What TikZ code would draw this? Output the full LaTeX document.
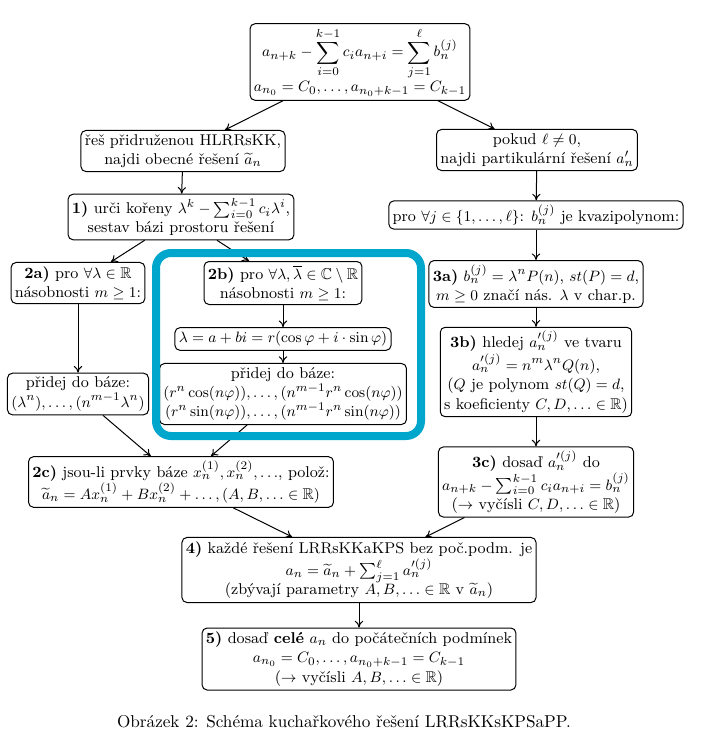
\documentclass[tikz,border=0pt]{standalone}
\usepackage{amsmath,amssymb,amsfonts}
\usepackage{xcolor}
\usetikzlibrary{arrows.meta, positioning}
\definecolor{markblue}{RGB}{0,166,204}
\tikzset{
  box/.style  = {rectangle, rounded corners=3pt, draw=black, semithick,
                 align=center, inner sep=2.3pt, font=\fontsize{9.4}{11.6}\selectfont},
  arr/.style  = {-{To[length=4pt,width=5pt]}, semithick, draw=black},
  highlight/.style = {draw=markblue, line width=4.8pt, rounded corners=9pt}
}
\begin{document}
\begin{tikzpicture}[x=0.6pt, y=-0.6pt]
  \useasboundingbox (0,0) rectangle (700,747);
  % zadani
  \node[box] (lrr) at (360,62)
    {$\displaystyle a_{n+k}-\sum_{i=0}^{k-1}c_ia_{n+i}=\sum_{j=1}^{\ell}b_n^{(j)}$\\
     $a_{n_0}=C_0,\ldots,a_{n_0+k-1}=C_{k-1}$};
  % homogenni cast
  \node[box] (hom)  at (183,151) {řeš přidruženou HLRRsKK,\\ najdi obecné řešení $\widetilde{a}_n$};
  \node[box] (roots) at (181,217) {\textbf{1)} urči kořeny $\lambda^k-\sum_{i=0}^{k-1}c_i\lambda^i$,\\ sestav bázi prostoru řešení};
  \node[box] (real) at (78,283) {\textbf{2a)} pro $\forall\lambda\in\mathbb{R}$\\ násobnosti $m\geq 1$:};
  \node[box] (realb) at (78,394) {přidej do báze:\\ $(\lambda^n),\ldots,(n^{m-1}\lambda^n)$};
  \node[box] (cplx) at (283,283) {\textbf{2b)} pro $\forall\lambda,\overline{\lambda}\in\mathbb{C}\setminus\mathbb{R}$\\ násobnosti $m\geq 1$:};
  \node[box] (polar) at (283,339) {$\lambda=a+bi=r(\cos\varphi+i\cdot\sin\varphi)$};
  \node[box] (cplxb) at (283,394) {přidej do báze:\\
     $(r^n\cos(n\varphi)),\ldots,(n^{m-1}r^n\cos(n\varphi))$\\
     $(r^n\sin(n\varphi)),\ldots,(n^{m-1}r^n\sin(n\varphi))$};
  \node[box] (gen) at (181,482) {\textbf{2c)} jsou-li prvky báze $x_n^{(1)},x_n^{(2)},\ldots$, polož:\\
     $\widetilde{a}_n=Ax_n^{(1)}+Bx_n^{(2)}+\ldots,(A,B,\ldots\in\mathbb{R})$};
  % partikularni cast
  \node[box] (part) at (537,150) {pokud $\ell\neq 0$,\\ najdi partikulární řešení $a_n'$};
  \node[box] (quasi) at (536,215) {pro $\forall j\in\{1,\ldots,\ell\}$: $b_n^{(j)}$ je kvazipolynom:};
  \node[box] (form) at (536,284) {\textbf{3a)} $b_n^{(j)}=\lambda^nP(n)$, $st(P)=d$,\\ $m\geq 0$ značí nás. $\lambda$ v char.p.};
  \node[box] (guess) at (536,372) {\textbf{3b)} hledej $a_n^{\prime(j)}$ ve tvaru\\
     $a_n^{\prime(j)}=n^m\lambda^nQ(n)$,\\ ($Q$ je polynom $st(Q)=d$,\\ s koeficienty $C,D,\ldots\in\mathbb{R}$)};
  \node[box] (subst) at (536,482) {\textbf{3c)} dosaď $a_n^{\prime(j)}$ do\\
     $a_{n+k}-\sum_{i=0}^{k-1}c_ia_{n+i}=b_n^{(j)}$\\ ($\rightarrow$ vyčísli $C,D,\ldots\in\mathbb{R}$)};
  % spojeni
  \node[box] (all) at (359,570) {\textbf{4)} každé řešení LRRsKKaKPS bez poč.podm. je\\
     $a_n=\widetilde{a}_n+\sum_{j=1}^{\ell}a_n^{\prime(j)}$\\ (zbývají parametry $A,B,\ldots\in\mathbb{R}$ v $\widetilde{a}_n$)};
  \node[box] (init) at (359,659) {\textbf{5)} dosaď \textbf{celé} $a_n$ do počátečních podmínek\\
     $a_{n_0}=C_0,\ldots,a_{n_0+k-1}=C_{k-1}$\\ ($\rightarrow$ vyčísli $A,B,\ldots\in\mathbb{R}$)};
  \node[font=\fontsize{10.3}{12}\selectfont] (cap) at (344,722) {Obrázek 2: Schéma kuchařkového řešení LRRsKKsKPSaPP.};
  % sipky
  \draw[arr] (lrr)--(hom); \draw[arr] (lrr)--(part);
  \draw[arr] (hom)--(roots); \draw[arr] (roots)--(real); \draw[arr] (roots)--(cplx);
  \draw[arr] (real)--(realb); \draw[arr] (cplx)--(polar); \draw[arr] (polar)--(cplxb);
  \draw[arr] (realb)--(gen); \draw[arr] (cplxb)--(gen);
  \draw[arr] (part)--(quasi); \draw[arr] (quasi)--(form);
  \draw[arr] (form)--(guess); \draw[arr] (guess)--(subst);
  \draw[arr] (gen)--(all); \draw[arr] (subst)--(all); \draw[arr] (all)--(init);
  % zvyrazneni 2b
  \draw[highlight] (156,253) rectangle (421,436);
\end{tikzpicture}
\end{document}
